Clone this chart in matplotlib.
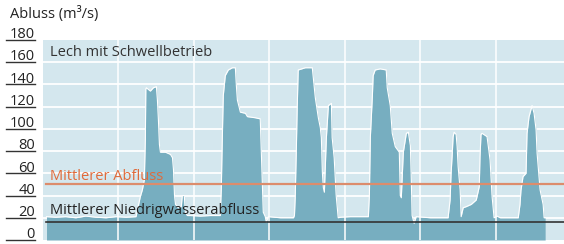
import matplotlib
matplotlib.use("Agg")
import matplotlib.pyplot as plt
import matplotlib.transforms as mtransforms

plt.rcParams['font.family'] = ['Open Sans', 'DejaVu Sans']

# Abfluss Lech mit Schwellbetrieb (Tage, m3/s)
days = [1.4, 5, 9, 13, 17, 21, 25, 29, 33, 37,
        38.7, 39.5, 40.3, 40.7, 40.9, 41.1, 42.7, 43.9, 45.1, 45.5,
        45.9, 46.3, 46.7, 48.7, 50.7, 51.5, 51.9, 52.3, 52.7, 53.8,
        55.0, 55.4, 56.2, 56.6, 57.4, 58.6, 62.6, 66.6, 70.5, 70.9,
        71.3, 71.7, 72.5, 73.7, 75.3, 76.5, 76.9, 77.3, 78.5, 80.5,
        81.3, 84.4, 86.4, 86.8, 87.2, 87.6, 88.4, 88.8, 89.6, 94.4,
        99.6, 100.0, 100.3, 100.7, 101.1, 101.5, 104.3, 107.1, 107.5, 108.3,
        109.5, 110.3, 110.7, 111.1, 111.5, 111.9, 112.3, 112.7, 113.5, 114.7,
        115.0, 115.8, 116.6, 117.4, 118.2, 122.2, 125.4, 129.4, 129.8, 130.2,
        131.0, 131.3, 132.1, 134.1, 136.5, 136.9, 138.1, 138.9, 140.1, 141.7,
        142.1, 142.5, 143.3, 144.5, 145.3, 146.1, 146.4, 146.8, 147.6, 148.4,
        154.0, 161.1, 161.9, 162.3, 162.7, 163.1, 163.5, 164.3, 164.7, 165.1,
        165.9, 166.3, 167.1, 168.3, 170.3, 172.3, 173.5, 173.8, 174.2, 174.6,
        176.6, 177.8, 178.6, 179.4, 180.6, 181.8, 185.8, 189.0, 189.7, 190.1,
        190.9, 192.1, 192.5, 193.3, 194.5, 195.3, 196.1, 196.5, 197.3, 197.7,
        198.9, 199.3, 199.7]
flow = [21, 20.5, 21, 20, 21.5, 20.5, 20, 21, 20.5, 21,
        39, 45, 54, 90, 136, 137, 134, 137, 138, 126,
        108, 86, 79, 79, 77, 74, 63, 40, 32, 29,
        30, 40, 40, 25, 22, 22, 21.5, 22, 22, 45,
        90, 130, 148, 153, 155, 155, 139, 126, 115, 114,
        111, 110, 109, 81, 50, 25, 21, 16, 21, 20,
        20, 22, 38, 76, 119, 153, 155, 155, 146, 128,
        110, 101, 92, 61, 47, 43, 67, 92, 121, 123,
        92, 74, 40, 20, 20.5, 21, 21, 21, 40, 93,
        130, 148, 153, 154, 153, 137, 121, 96, 84, 79,
        40, 38, 79, 96, 97, 85, 61, 22, 15, 21,
        20, 20, 36, 60, 75, 93, 97, 95, 84, 66,
        45, 21, 29, 30, 32, 36, 48, 75, 95, 96,
        93, 72, 39, 20, 21.5, 20, 20, 20, 32, 45,
        57, 60, 96, 111, 121, 114, 99, 78, 56, 45,
        32, 20, 20]

mittlerer_abfluss = 50.5
mittlerer_nq = 16.5
yticks = [0, 20, 40, 60, 80, 100, 120, 140, 160, 180]
month_lines = [30, 60, 90, 120, 150, 180]

W, H = 564, 244
fig = plt.figure(figsize=(W / 100, H / 100), dpi=100)
ax = fig.add_axes([43 / W, 4 / H, (W - 43) / W, 200 / H])
ax.set_facecolor('#d4e7ee')
for s in ax.spines.values():
    s.set_visible(False)
ax.set_xlim(0, 207.2)
ax.set_ylim(0, 180)
ax.set_xticks([])
ax.set_yticks([])

for y in yticks[1:-1]:
    ax.axhline(y, color='white', lw=1.3, zorder=1)

ax.fill_between(days, flow, 0, color='#77aec0', lw=0, zorder=2)
ax.plot(days, flow, color='white', lw=0.8, zorder=3)

for x in month_lines:
    ax.axvline(x, color='white', lw=1.1, zorder=4)

ax.plot([1.0, 207.2], [mittlerer_abfluss] * 2, color='#dc8c6c', lw=1.6, zorder=5)
ax.plot([1.0, 207.2], [mittlerer_nq] * 2, color='#333333', lw=1.2, zorder=5)

fs = 10.5
ax.text(2.9, 168.5, 'Lech mit Schwellbetrieb', color='#333333', fontsize=fs,
        va='center', ha='left', zorder=6)
ax.text(2.9, 57, 'Mittlerer Abfluss', color='#e06a3a', fontsize=fs,
        va='center', ha='left', zorder=6)
ax.text(2.9, 27, 'Mittlerer Niedrigwasserabfluss', color='#222222', fontsize=fs,
        va='center', ha='left', zorder=6)

# Achsbeschriftung links mit Unterstrich
trans = mtransforms.blended_transform_factory(fig.transFigure, ax.transData)
for y in yticks:
    ax.plot([6 / W, 35 / W], [y, y], color='#333333', lw=1.0,
            transform=trans, clip_on=False)
    ax.text(35 / W, y + 1.6, str(y), transform=trans, ha='right', va='baseline',
            fontsize=fs, color='#222222')

fig.text(10 / W, 1 - 14 / H, 'Abluss (m³/s)', fontsize=fs, color='#222222',
         ha='left', va='center')

fig.savefig('out.png', dpi=100)
